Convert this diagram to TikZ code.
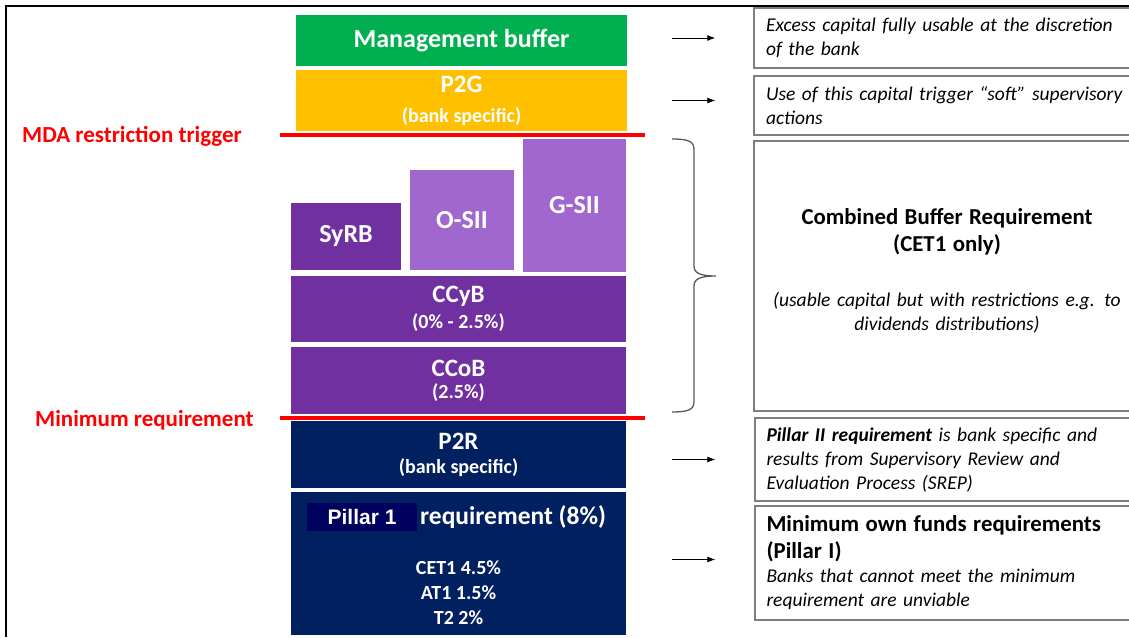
\documentclass[tikz,border=0pt]{standalone}
\usepackage{fontspec}
\setmainfont{Carlito}
\newfontfamily\arialfont{Liberation Sans}
\usetikzlibrary{arrows.meta}

\definecolor{mgreen}{HTML}{00B050}
\definecolor{myellow}{HTML}{FFC000}
\definecolor{dpurple}{HTML}{7030A0}
\definecolor{lpurple}{HTML}{A067CF}
\definecolor{navy}{HTML}{002060}
\definecolor{pillarblue}{HTML}{00005E}
\definecolor{notegray}{HTML}{7F7F7F}
\definecolor{mred}{HTML}{FF0000}

\newcommand{\sz}[2]{\fontsize{#1}{#2}\selectfont}

\tikzset{
  blk/.style={inner sep=0pt, text=white, font=\bfseries, align=center},
  big/.style={font=\bfseries\sz{26}{30}},
  note/.style={draw=notegray, line width=1.5pt, inner sep=0pt, font=\itshape\sz{19.5}{24}},
  arr/.style={-{Latex[length=8pt,width=6pt]}, line width=0.9pt},
  redline/.style={draw=mred, line width=4pt},
  redlbl/.style={text=mred, font=\bfseries\sz{23}{26}, anchor=west, inner sep=0pt},
  bracec/.style={draw=black!65, line width=1.3pt}
}

\begin{document}
\begin{tikzpicture}[x=1pt,y=-1pt]
  \useasboundingbox (0,0) rectangle (1129,637);
  \draw[line width=1.5pt] (1129,6) -- (6,6) -- (6,637);

  % capital stack
  \node[blk, big, fill=mgreen, minimum width=331, minimum height=51] (mgmt) at (461.5,40.5) {Management buffer};
  \node[blk, fill=myellow, minimum width=331, minimum height=61] (p2g) at (461.5,100.5)
    {{\sz{25}{28}P2G}\\[14pt]{\sz{20}{24}(bank specific)}};
  \node[blk, big, fill=dpurple, minimum width=110, minimum height=67] (syrb) at (346,236.5) {SyRB};
  \node[blk, big, fill=lpurple, minimum width=104, minimum height=100] (osii) at (462,220) {O-SII};
  \node[blk, big, fill=lpurple, minimum width=103, minimum height=133] (gsii) at (574.5,205.5) {G-SII};
  \node[blk, fill=dpurple, minimum width=335, minimum height=66] (ccyb) at (458.5,309)
    {{\sz{25}{28}CCyB}\\[6pt]{\sz{20}{24}(0\% - 2.5\%)}};
  \node[blk, fill=dpurple, minimum width=335, minimum height=67] (ccob) at (458.5,380.5)
    {{\sz{25}{28}CCoB}\\[6pt]{\sz{20}{24}(2.5\%)}};
  \node[blk, fill=navy, minimum width=335, minimum height=67] (p2r) at (458.5,454.5)
    {{\sz{25}{28}P2R}\\[8pt]{\sz{20}{24}(bank specific)}};
  \node[blk, fill=navy, minimum width=335, minimum height=143] (pil1) at (458.5,563.5) {};
  \node[blk, fill=pillarblue, minimum width=110, minimum height=28, font=\arialfont\bfseries\sz{21}{24}] (plabel) at (362,517) {Pillar 1};
  \node[blk, anchor=west, font=\bfseries\sz{25.5}{28}] (req) at (420,517) {requirement (8\%)};
  \node[blk, font=\bfseries\sz{20}{25}] (tiers) at (458.5,593) {CET1 4.5\%\\AT1 1.5\%\\T2 2\%};

  % trigger lines
  \draw[redline] (280,135) -- (645,135);
  \draw[redline] (280,418) -- (645,418);
  \node[redlbl] (mda) at (22,136) {MDA restriction trigger};
  \node[redlbl] (minreq) at (35,420) {Minimum requirement};

  % explanations
  \node[note, minimum width=386, minimum height=60, text width=362, align=left] (note1) at (947,38)
    {Excess capital fully usable at the discretion\\of the bank};
  \node[note, minimum width=386, minimum height=59, text width=362, align=left] (note2) at (947,105.5)
    {Use of this capital trigger ``soft'' supervisory\\actions};
  \node[note, minimum width=386, minimum height=270, text width=375, align=center] (note3) at (947,276)
    {{\upshape\bfseries\sz{22.8}{27}Combined Buffer Requirement\\[3pt](CET1 only)}\\[31pt]
     (usable capital but with restrictions e.g. to\\dividends distributions)\\[-10pt]\mbox{}};
  \node[note, minimum width=385, minimum height=83, text width=362, align=left] (note4) at (947.5,459.5)
    {{\bfseries Pillar II requirement} is bank specific and\\results from Supervisory Review and\\Evaluation Process (SREP)};
  \node[note, minimum width=385, minimum height=114, text width=362, align=left] (note5) at (947.5,563)
    {{\upshape\bfseries\sz{22.8}{27}Minimum own funds requirements\\[3pt](Pillar I)}\\
     Banks that cannot meet the minimum\\requirement are unviable};

  % arrows
  \draw[arr, shorten <=45pt, shorten >=38pt] (note1.west -| mgmt.east) -- (note1.west);
  \draw[arr, shorten <=45pt, shorten >=38pt] (p2g.east) -- (p2g.east -| note2.west);
  \draw[arr, shorten <=46pt, shorten >=39pt] (note4.west -| p2r.east) -- (note4.west);
  \draw[arr, shorten <=46pt, shorten >=39pt] ([yshift=4pt]pil1.east) -- ([yshift=4pt]pil1.east -| note5.west);

  % brace
  \coordinate (bt) at (672,139);
  \coordinate (bb) at (672,412);
  \draw[bracec] (bt) .. controls +(18,0) and +(0,-8) .. (694,150) -- (694,266)
    .. controls (694,273) and (700,276) .. (716,276)
    .. controls (700,276) and (694,279) .. (694,286) -- (694,401)
    .. controls +(0,8) and +(18,0) .. (bb);
\end{tikzpicture}
\end{document}
